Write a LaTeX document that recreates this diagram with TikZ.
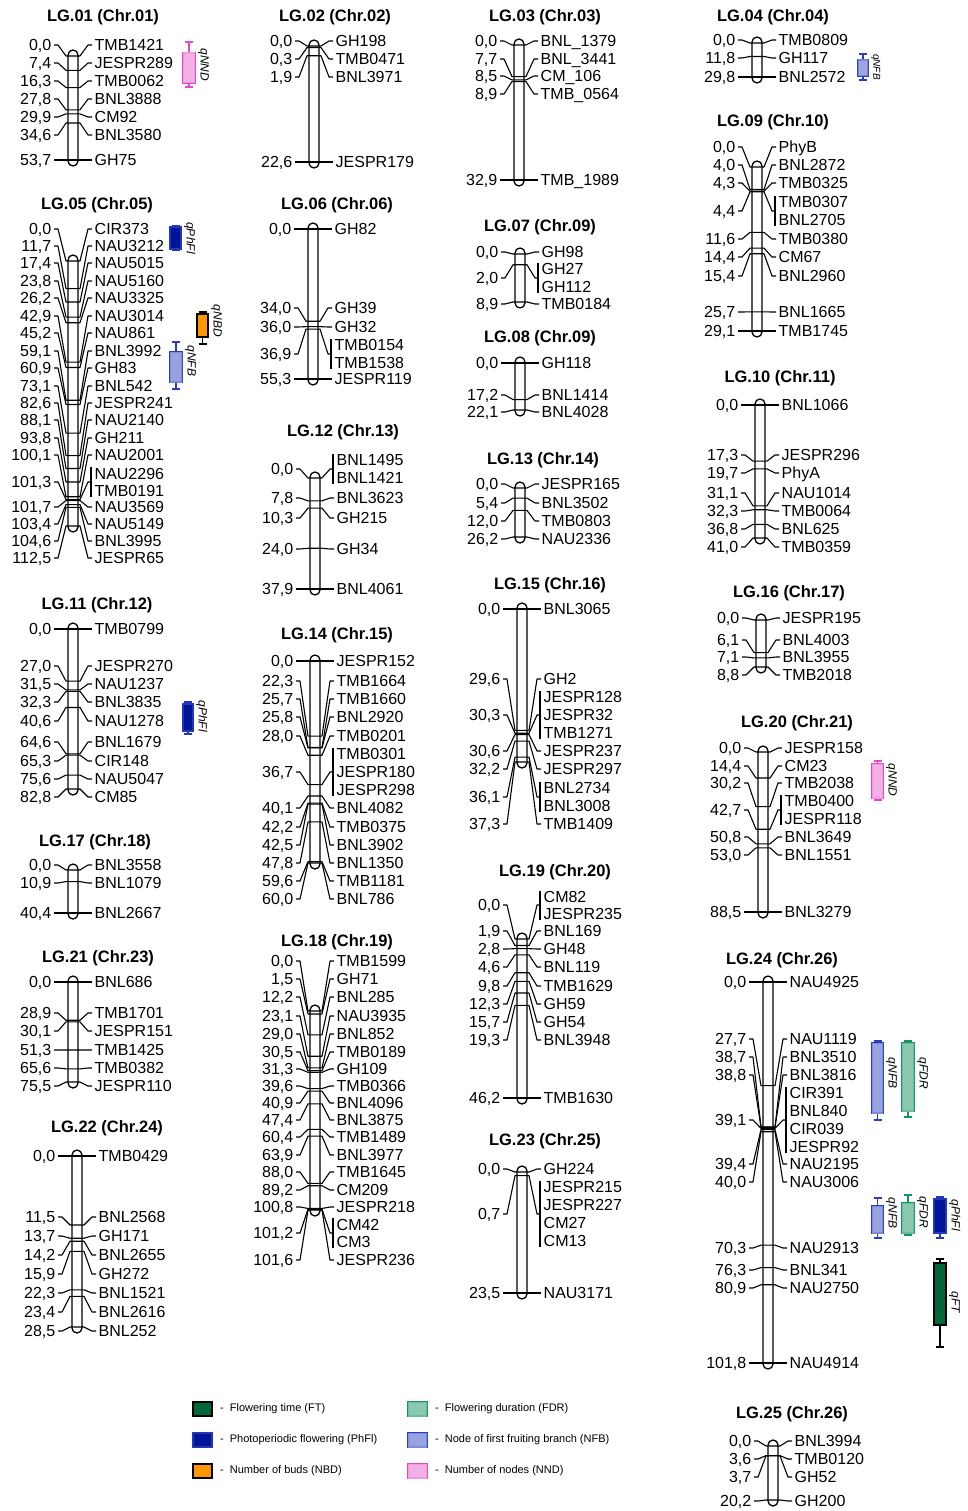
\documentclass[tikz,border=0pt]{standalone}
\usepackage{fontspec}
\setmainfont{Liberation Sans}
\usetikzlibrary{patterns}
\pgfdeclarepatternformonly{finecross}{\pgfqpoint{-0.5pt}{-0.5pt}}{\pgfqpoint{2.5pt}{2.5pt}}{\pgfqpoint{2pt}{2pt}}{%
  \pgfsetlinewidth{0.4pt}%
  \pgfpathmoveto{\pgfqpoint{-0.1pt}{-0.1pt}}\pgfpathlineto{\pgfqpoint{2.1pt}{2.1pt}}%
  \pgfpathmoveto{\pgfqpoint{-0.1pt}{2.1pt}}\pgfpathlineto{\pgfqpoint{2.1pt}{-0.1pt}}%
  \pgfusepath{stroke}}
\definecolor{ftc}{RGB}{0,104,56}
\definecolor{phc}{RGB}{0,20,150}
\definecolor{phb}{RGB}{35,55,190}
\definecolor{nbdc}{RGB}{255,150,0}
\definecolor{fdrb}{RGB}{20,150,100}
\definecolor{fdrf}{RGB}{200,232,215}
\definecolor{nfbb}{RGB}{40,60,190}
\definecolor{nfbf}{RGB}{195,200,232}
\definecolor{nndb}{RGB}{230,70,200}
\definecolor{nndf}{RGB}{252,210,244}
\newcounter{mk}
\newcounter{qc}
\def\gsp{18}
\tikzset{
  conn/.style={line width=1.1pt, line join=round},
  chrom/.style={line width=1.3pt, fill=white, rounded corners=5pt},
  numlab/.style={anchor=east, inner sep=2.5pt, font=\fontsize{16}{16}\selectfont, text height=11.5pt, text depth=0pt},
  mklab/.style={anchor=west, inner sep=2.5pt, font=\fontsize{16}{16}\selectfont, text height=11.5pt, text depth=0pt},
  lgtitle/.style={font=\bfseries\fontsize{16.5}{17}\selectfont, inner sep=1pt},
  qlab/.style={rotate=-90, anchor=south, inner sep=1pt, font=\itshape\fontsize{12}{12}\selectfont},
  legtxt/.style={anchor=west, inner sep=1pt, font=\fontsize{11}{11}\selectfont},
  qbase/.style={rectangle, inner sep=0pt, line width=1.2pt},
  FT box/.style={qbase, draw=black, fill=ftc},
  FT wh/.style={line width=1.2pt, draw=black},
  PhFl box/.style={qbase, draw=phb, fill=phc},
  PhFl wh/.style={line width=1.2pt, draw=phb},
  NBD box/.style={qbase, draw=black, fill=nbdc},
  NBD wh/.style={line width=1.2pt, draw=black},
  FDR box/.style={qbase, draw=fdrb, fill=fdrf, postaction={pattern=finecross, pattern color=fdrb!55}},
  FDR wh/.style={line width=1.2pt, draw=fdrb},
  NFB box/.style={qbase, draw=nfbb, fill=nfbf, postaction={pattern=finecross, pattern color=nfbb!50}},
  NFB wh/.style={line width=1.2pt, draw=nfbb},
  NND box/.style={qbase, draw=nndb, fill=nndf, postaction={pattern=finecross, pattern color=nndb!45}},
  NND wh/.style={line width=1.2pt, draw=nndb},
}
% linkage group: id, title x, title y, title, cx, y(0 cM), y(max cM), max cM
\newcommand\LG[8]{%
  \node[lgtitle] (#1) at (#2,#3) {#4};
  \gdef\cx{#5}\gdef\yt{#6}\gdef\yb{#7}\gdef\cmax{#8}%
  \draw[chrom] (#5-5,#6-6) rectangle (#5+5,#7+6);
}
% single marker: cM, label y, number, name
\newcommand\M[4]{%
  \stepcounter{mk}%
  \pgfmathsetmacro\yc{\yt+(#1)/\cmax*(\yb-\yt)}%
  \node[numlab] (a\themk) at (\cx-19,#2) {#3};
  \node[mklab] (b\themk) at (\cx+19,#2) {#4};
  \draw[conn] (a\themk.east) -- (\cx-15,#2) -- (\cx-7,\yc) -- (\cx+7,\yc) -- (\cx+15,#2) -- (b\themk.west);
}
% grouped markers: cM, number y, number, names
\newcommand\MG[4]{%
  \stepcounter{mk}%
  \pgfmathsetmacro\yc{\yt+(#1)/\cmax*(\yb-\yt)}%
  \node[numlab] (a\themk) at (\cx-19,#2) {#3};
  \foreach \nm [count=\i] in {#4} {\xdef\ng{\i}}%
  \foreach \nm [count=\i] in {#4} {%
    \pgfmathsetmacro\yy{#2+(\i-(\ng+1)/2)*\gsp}%
    \node[mklab] (b\themk-\i) at (\cx+19,\yy) {\nm};
  }%
  \pgfmathsetmacro\bt{#2-(\ng-1)/2*\gsp-6}%
  \pgfmathsetmacro\bb{#2+(\ng-1)/2*\gsp+6}%
  \coordinate (c\themk) at (\cx+18,#2);
  \coordinate (d\themk) at (\cx+18,\bt);
  \coordinate (e\themk) at (\cx+18,\bb);
  \draw[conn] (a\themk.east) -- (\cx-15,#2) -- (\cx-7,\yc) -- (\cx+7,\yc) -- (\cx+15,#2) -- (c\themk);
  \draw[conn] (d\themk) -- (e\themk);
}
% QTL: trait, x1, x2, whisker top, box top, box bottom, whisker bottom, label, label y
\newcommand\QTL[9]{%
  \stepcounter{qc}%
  \pgfmathsetmacro\xm{(#2+#3)/2}%
  \pgfmathsetmacro\qw{#3-#2}%
  \pgfmathsetmacro\qh{#6-#5}%
  \pgfmathsetmacro\ym{(#5+#6)/2}%
  \node[#1 box, minimum width=\qw pt, minimum height=\qh pt] (q\theqc) at (\xm,\ym) {};
  \draw[#1 wh] (q\theqc.north) -- (\xm,#4) (\xm-4,#4) -- (\xm+4,#4)
               (q\theqc.south) -- (\xm,#7) (\xm-4,#7) -- (\xm+4,#7);
  \node[qlab] (ql\theqc) at (#3+2,#9) {#8};
}
\begin{document}
\begin{tikzpicture}[x=1pt,y=-1pt]
\fill[white] (0,0) rectangle (967,1511);
\useasboundingbox (0,0) rectangle (967,1511);

% ---------------- column 1
\LG{t1}{103}{17}{LG.01 (Chr.01)}{73}{56}{160}{53.7}
\M{0}{45}{0,0}{TMB1421}
\M{7.4}{63}{7,4}{JESPR289}
\M{16.3}{81}{16,3}{TMB0062}
\M{27.8}{99}{27,8}{BNL3888}
\M{29.9}{117}{29,9}{CM92}
\M{34.6}{135}{34,6}{BNL3580}
\M{53.7}{160}{53,7}{GH75}

\def\gsp{17.5}
\LG{t5}{97}{205}{LG.05 (Chr.05)}{73}{261}{526}{112.5}
\M{0}{229}{0,0}{CIR373}
\M{11.7}{246}{11,7}{NAU3212}
\M{17.4}{263}{17,4}{NAU5015}
\M{23.8}{281}{23,8}{NAU5160}
\M{26.2}{298}{26,2}{NAU3325}
\M{42.9}{316}{42,9}{NAU3014}
\M{45.2}{333}{45,2}{NAU861}
\M{59.1}{351}{59,1}{BNL3992}
\M{60.9}{368}{60,9}{GH83}
\M{73.1}{386}{73,1}{BNL542}
\M{82.6}{403}{82,6}{JESPR241}
\M{88.1}{420}{88,1}{NAU2140}
\M{93.8}{438}{93,8}{GH211}
\M{100.1}{455}{100,1}{NAU2001}
\MG{101.3}{482}{101,3}{NAU2296,TMB0191}
\M{101.7}{507}{101,7}{NAU3569}
\M{103.4}{524}{103,4}{NAU5149}
\M{104.6}{541}{104,6}{BNL3995}
\M{112.5}{558}{112,5}{JESPR65}
\def\gsp{18}

\LG{t11}{97}{605}{LG.11 (Chr.12)}{73}{629}{789}{82.8}
\M{0}{629}{0,0}{TMB0799}
\M{27}{666}{27,0}{JESPR270}
\M{31.5}{684}{31,5}{NAU1237}
\M{32.3}{702}{32,3}{BNL3835}
\M{40.6}{721}{40,6}{NAU1278}
\M{64.6}{742}{64,6}{BNL1679}
\M{65.3}{761}{65,3}{CIR148}
\M{75.6}{779}{75,6}{NAU5047}
\M{82.8}{797}{82,8}{CM85}

\LG{t17}{95}{842}{LG.17 (Chr.18)}{73}{870}{913}{40.4}
\M{0}{865}{0,0}{BNL3558}
\M{10.9}{883}{10,9}{BNL1079}
\M{40.4}{913}{40,4}{BNL2667}

\LG{t21}{98}{958}{LG.21 (Chr.23)}{73}{982}{1082}{75.5}
\M{0}{982}{0,0}{BNL686}
\M{28.9}{1013}{28,9}{TMB1701}
\M{30.1}{1031}{30,1}{JESPR151}
\M{51.3}{1050}{51,3}{TMB1425}
\M{65.6}{1068}{65,6}{TMB0382}
\M{75.5}{1086}{75,5}{JESPR110}

\LG{t22}{107}{1128}{LG.22 (Chr.24)}{77}{1156}{1327}{28.5}
\M{0}{1156}{0,0}{TMB0429}
\M{11.5}{1217}{11,5}{BNL2568}
\M{13.7}{1236}{13,7}{GH171}
\M{14.2}{1255}{14,2}{BNL2655}
\M{15.9}{1274}{15,9}{GH272}
\M{22.3}{1293}{22,3}{BNL1521}
\M{23.4}{1312}{23,4}{BNL2616}
\M{28.5}{1331}{28,5}{BNL252}

% ---------------- column 2
\LG{t2}{335}{17}{LG.02 (Chr.02)}{314}{46}{162}{22.6}
\M{0}{41}{0,0}{GH198}
\M{0.3}{59}{0,3}{TMB0471}
\M{1.9}{77}{1,9}{BNL3971}
\M{22.6}{162}{22,6}{JESPR179}

\LG{t6}{337}{205}{LG.06 (Chr.06)}{313}{229}{379}{55.3}
\M{0}{229}{0,0}{GH82}
\M{34}{308}{34,0}{GH39}
\M{36}{327}{36,0}{GH32}
\MG{36.9}{354}{36,9}{TMB0154,TMB1538}
\M{55.3}{379}{55,3}{JESPR119}

\LG{t12}{343}{432}{LG.12 (Chr.13)}{315}{478}{589}{37.9}
\MG{0}{469}{0,0}{BNL1495,BNL1421}
\M{7.8}{498}{7,8}{BNL3623}
\M{10.3}{518}{10,3}{GH215}
\M{24}{549}{24,0}{GH34}
\M{37.9}{589}{37,9}{BNL4061}

\LG{t14}{337}{635}{LG.14 (Chr.15)}{315}{661}{863}{60}
\M{0}{661}{0,0}{JESPR152}
\M{22.3}{681}{22,3}{TMB1664}
\M{25.7}{699}{25,7}{TMB1660}
\M{25.8}{717}{25,8}{BNL2920}
\M{28}{736}{28,0}{TMB0201}
\MG{36.7}{772}{36,7}{TMB0301,JESPR180,JESPR298}
\M{40.1}{808}{40,1}{BNL4082}
\M{42.2}{827}{42,2}{TMB0375}
\M{42.5}{845}{42,5}{BNL3902}
\M{47.8}{863}{47,8}{BNL1350}
\M{59.6}{881}{59,6}{TMB1181}
\M{60}{899}{60,0}{BNL786}

\def\gsp{17.5}
\LG{t18}{337}{942}{LG.18 (Chr.19)}{315}{1011}{1210}{101.6}
\M{0}{961}{0,0}{TMB1599}
\M{1.5}{979}{1,5}{GH71}
\M{12.2}{997}{12,2}{BNL285}
\M{23.1}{1016}{23,1}{NAU3935}
\M{29}{1034}{29,0}{BNL852}
\M{30.5}{1052}{30,5}{TMB0189}
\M{31.3}{1069}{31,3}{GH109}
\M{39.6}{1086}{39,6}{TMB0366}
\M{40.9}{1103}{40,9}{BNL4096}
\M{47.4}{1120}{47,4}{BNL3875}
\M{60.4}{1137}{60,4}{TMB1489}
\M{63.9}{1155}{63,9}{BNL3977}
\M{88}{1172}{88,0}{TMB1645}
\M{89.2}{1190}{89,2}{CM209}
\M{100.8}{1207}{100,8}{JESPR218}
\MG{101.2}{1233}{101,2}{CM42,CM3}
\M{101.6}{1260}{101,6}{JESPR236}
\def\gsp{18}

% ---------------- column 3
\LG{t3}{545}{17}{LG.03 (Chr.03)}{519}{45}{180}{32.9}
\M{0}{41}{0,0}{BNL\_1379}
\M{7.7}{59}{7,7}{BNL\_3441}
\M{8.5}{76}{8,5}{CM\_106}
\M{8.9}{94}{8,9}{TMB\_0564}
\M{32.9}{180}{32,9}{TMB\_1989}

\LG{t7}{540}{227}{LG.07 (Chr.09)}{520}{254}{302}{8.9}
\M{0}{252}{0,0}{GH98}
\MG{2}{278}{2,0}{GH27,GH112}
\M{8.9}{304}{8,9}{TMB0184}

\LG{t8}{540}{338}{LG.08 (Chr.09)}{520}{363}{410}{22.1}
\M{0}{363}{0,0}{GH118}
\M{17.2}{395}{17,2}{BNL1414}
\M{22.1}{412}{22,1}{BNL4028}

\LG{t13}{543}{460}{LG.13 (Chr.14)}{520}{488}{537}{26.2}
\M{0}{484}{0,0}{JESPR165}
\M{5.4}{503}{5,4}{BNL3502}
\M{12}{521}{12,0}{TMB0803}
\M{26.2}{539}{26,2}{NAU2336}

\LG{t15}{550}{585}{LG.15 (Chr.16)}{522}{609}{762}{37.3}
\M{0}{609}{0,0}{BNL3065}
\M{29.6}{679}{29,6}{GH2}
\MG{30.3}{715}{30,3}{JESPR128,JESPR32,TMB1271}
\M{30.6}{751}{30,6}{JESPR237}
\M{32.2}{769}{32,2}{JESPR297}
\MG{36.1}{797}{36,1}{BNL2734,BNL3008}
\M{37.3}{824}{37,3}{TMB1409}

\def\gsp{17}
\LG{t19}{555}{872}{LG.19 (Chr.20)}{522}{939}{1098}{46.2}
\MG{0}{905}{0,0}{CM82,JESPR235}
\def\gsp{18}
\M{1.9}{931}{1,9}{BNL169}
\M{2.8}{949}{2,8}{GH48}
\M{4.6}{967}{4,6}{BNL119}
\M{9.8}{986}{9,8}{TMB1629}
\M{12.3}{1004}{12,3}{GH59}
\M{15.7}{1022}{15,7}{GH54}
\M{19.3}{1040}{19,3}{BNL3948}
\M{46.2}{1098}{46,2}{TMB1630}

\LG{t23}{545}{1141}{LG.23 (Chr.25)}{522}{1172}{1293}{23.5}
\M{0}{1169}{0,0}{GH224}
\MG{0.7}{1214}{0,7}{JESPR215,JESPR227,CM27,CM13}
\M{23.5}{1293}{23,5}{NAU3171}

% ---------------- column 4
\LG{t4}{773}{17}{LG.04 (Chr.04)}{757}{43}{77}{29.8}
\M{0}{40}{0,0}{TMB0809}
\M{11.8}{58}{11,8}{GH117}
\M{29.8}{77}{29,8}{BNL2572}

\LG{t9}{773}{122}{LG.09 (Chr.10)}{757}{167}{331}{29.1}
\M{0}{147}{0,0}{PhyB}
\M{4}{165}{4,0}{BNL2872}
\M{4.3}{183}{4,3}{TMB0325}
\MG{4.4}{211}{4,4}{TMB0307,BNL2705}
\M{11.6}{239}{11,6}{TMB0380}
\M{14.4}{257}{14,4}{CM67}
\M{15.4}{276}{15,4}{BNL2960}
\M{25.7}{312}{25,7}{BNL1665}
\M{29.1}{331}{29,1}{TMB1745}

\LG{t10}{780}{378}{LG.10 (Chr.11)}{760}{405}{538}{41}
\M{0}{405}{0,0}{BNL1066}
\M{17.3}{455}{17,3}{JESPR296}
\M{19.7}{473}{19,7}{PhyA}
\M{31.1}{493}{31,1}{NAU1014}
\M{32.3}{511}{32,3}{TMB0064}
\M{36.8}{529}{36,8}{BNL625}
\M{41}{547}{41,0}{TMB0359}

\LG{t16}{789}{593}{LG.16 (Chr.17)}{761}{620}{667}{8.8}
\M{0}{618}{0,0}{JESPR195}
\M{6.1}{640}{6,1}{BNL4003}
\M{7.1}{657}{7,1}{BNL3955}
\M{8.8}{675}{8,8}{TMB2018}

\LG{t20}{797}{723}{LG.20 (Chr.21)}{763}{752}{912}{88.5}
\M{0}{748}{0,0}{JESPR158}
\M{14.4}{766}{14,4}{CM23}
\M{30.2}{783}{30,2}{TMB2038}
\MG{42.7}{810}{42,7}{TMB0400,JESPR118}
\M{50.8}{837}{50,8}{BNL3649}
\M{53}{855}{53,0}{BNL1551}
\M{88.5}{912}{88,5}{BNL3279}

\LG{t24}{782}{960}{LG.24 (Chr.26)}{768}{982}{1363}{101.8}
\M{0}{982}{0,0}{NAU4925}
\M{27.7}{1039}{27,7}{NAU1119}
\M{38.7}{1057}{38,7}{BNL3510}
\M{38.8}{1075}{38,8}{BNL3816}
\MG{39.1}{1120}{39,1}{CIR391,BNL840,CIR039,JESPR92}
\M{39.4}{1164}{39,4}{NAU2195}
\M{40}{1182}{40,0}{NAU3006}
\M{70.3}{1248}{70,3}{NAU2913}
\M{76.3}{1270}{76,3}{BNL341}
\M{80.9}{1288}{80,9}{NAU2750}
\M{101.8}{1363}{101,8}{NAU4914}

\LG{t25}{792}{1414}{LG.25 (Chr.26)}{773}{1446}{1500}{20.2}
\M{0}{1441}{0,0}{BNL3994}
\M{3.6}{1459}{3,6}{TMB0120}
\M{3.7}{1477}{3,7}{GH52}
\M{20.2}{1501}{20,2}{GH200}

% ---------------- QTLs
\QTL{NND}{183}{195}{42}{53}{83}{87}{qNND}{65}
\QTL{PhFl}{170}{181}{226}{227}{249}{250}{qPhFl}{238}
\QTL{NBD}{197}{208}{312}{314}{337}{344}{qNBD}{321}
\QTL{NFB}{170}{182}{342}{352}{382}{389}{qNFB}{361}
\QTL{NFB}{858}{868}{54}{60}{76}{80}{{\fontsize{10}{10}\selectfont qNFB}}{67}
\QTL{PhFl}{183}{193}{702}{704}{731}{734}{qPhFl}{716}
\QTL{NND}{872}{883}{761}{764}{798}{800}{qNND}{780}
\QTL{NFB}{872}{883}{1041}{1043}{1113}{1120}{qNFB}{1073}
\QTL{FDR}{902}{914}{1041}{1043}{1111}{1117}{qFDR}{1073}
\QTL{NFB}{872}{883}{1198}{1206}{1233}{1238}{qNFB}{1213}
\QTL{FDR}{902}{914}{1195}{1203}{1233}{1235}{qFDR}{1212}
\QTL{PhFl}{934}{946}{1197}{1199}{1233}{1238}{qPhFl}{1215}
\QTL{FT}{934}{946}{1259}{1263}{1325}{1347}{qFT}{1302}

% ---------------- legend
\node[FT box, minimum width=19pt, minimum height=14pt] (k1) at (202.5,1409) {};
\node[legtxt] (kt1) at (219,1409) {-\hspace{6pt}Flowering time (FT)};
\node[PhFl box, minimum width=19pt, minimum height=14pt] (k2) at (202.5,1440) {};
\node[legtxt] (kt2) at (219,1440) {-\hspace{6pt}Photoperiodic flowering (PhFl)};
\node[NBD box, minimum width=19pt, minimum height=14pt] (k3) at (202.5,1471) {};
\node[legtxt] (kt3) at (219,1471) {-\hspace{6pt}Number of buds (NBD)};
\node[FDR box, minimum width=19pt, minimum height=14pt] (k4) at (417.5,1409) {};
\node[legtxt] (kt4) at (434,1409) {-\hspace{6pt}Flowering duration (FDR)};
\node[NFB box, minimum width=19pt, minimum height=14pt] (k5) at (417.5,1440) {};
\node[legtxt] (kt5) at (434,1440) {-\hspace{6pt}Node of first fruiting branch (NFB)};
\node[NND box, minimum width=19pt, minimum height=14pt] (k6) at (417.5,1471) {};
\node[legtxt] (kt6) at (434,1471) {-\hspace{6pt}Number of nodes (NND)};
\end{tikzpicture}
\end{document}
